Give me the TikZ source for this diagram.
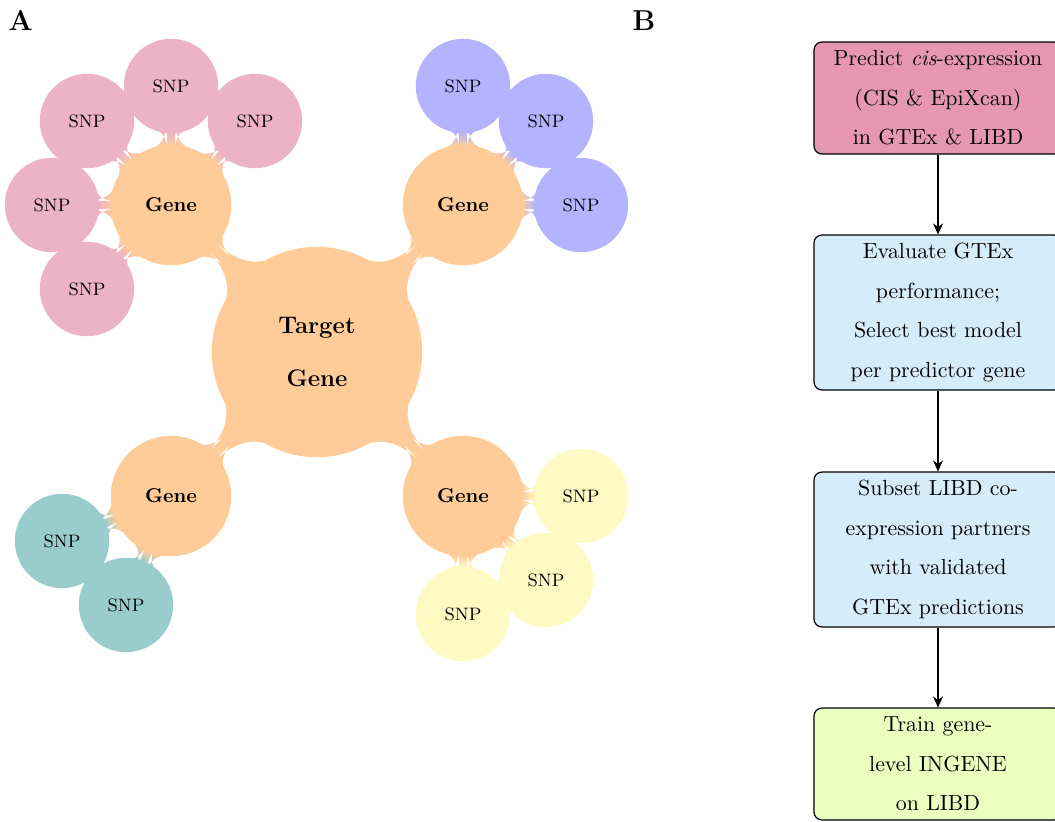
\documentclass[tikz,border=0pt]{standalone}
\usetikzlibrary{mindmap,arrows.meta,backgrounds}

\definecolor{geneor}{RGB}{255,204,153}
\definecolor{snppink}{RGB}{236,179,198}
\definecolor{snpblue}{RGB}{179,179,255}
\definecolor{snpteal}{RGB}{153,204,204}
\definecolor{snpyellow}{RGB}{255,250,195}
\definecolor{boxpink}{RGB}{229,151,177}
\definecolor{boxblue}{RGB}{213,236,250}
\definecolor{boxgreen}{RGB}{236,253,192}

\begin{document}
\begin{tikzpicture}[x=0.5pt,y=-0.5pt,
  panel/.style={font=\Large\bfseries, anchor=base west, inner sep=0pt},
  stepbox/.style={draw=black, semithick, rounded corners=4pt, text width=117pt,
    align=center, minimum width=124pt, inner sep=3.5pt,
    font={\fontsize{10.95}{19.75}\selectfont}},
  flowarrow/.style={-{Stealth[length=5.5pt,width=5pt]}, semithick},
  rootc/.style={concept, concept color=geneor, fill=geneor, text=black,
    minimum size=104pt, text width=80pt, align=center,
    font={\fontsize{12}{26.5}\selectfont\bfseries}},
  genec/.style={concept, concept color=geneor, fill=geneor, text=black,
    minimum size=59pt, text width=40pt, align=center, font=\normalsize\bfseries},
  snpc/.style={concept, concept color=#1, fill=#1, text=black,
    minimum size=46pt, text width=30pt, align=center, font=\small},
  bar/.style args={#1/#2}{circle connection bar switch color=from (#1) to (#2)},
]
\useasboundingbox (0,0) rectangle (1055,821);

% panel letters
\node[panel] (labA) at (8,30) {A};
\node[panel] (labB) at (632,30) {B};

% ---- mind map of the target gene and its predictors ----
\begin{scope}[mindmap]
  \node[rootc] (root) at (317,352) {Target\\Gene};

  \node[genec] (g1) at (171,205) {Gene};
  \node[genec] (g2) at (463,205) {Gene};
  \node[genec] (g3) at (171,496) {Gene};
  \node[genec] (g4) at (463,496) {Gene};

  \node[snpc=snppink] (s11) at (171,86)  {SNP};
  \node[snpc=snppink] (s12) at (255,121) {SNP};
  \node[snpc=snppink] (s13) at (87,121)  {SNP};
  \node[snpc=snppink] (s14) at (52,205)  {SNP};
  \node[snpc=snppink] (s15) at (87,289)  {SNP};

  \node[snpc=snpblue] (s21) at (463,86)  {SNP};
  \node[snpc=snpblue] (s22) at (546,121) {SNP};
  \node[snpc=snpblue] (s23) at (581,205) {SNP};

  \node[snpc=snpteal] (s31) at (62,541)  {SNP};
  \node[snpc=snpteal] (s32) at (126,605) {SNP};

  \node[snpc=snpyellow] (s41) at (581,496) {SNP};
  \node[snpc=snpyellow] (s42) at (546,580) {SNP};
  \node[snpc=snpyellow] (s43) at (463,614) {SNP};

  \begin{pgfonlayer}{background}
    \path (root) to[bar=geneor/geneor] (g1);
    \path (root) to[bar=geneor/geneor] (g2);
    \path (root) to[bar=geneor/geneor] (g3);
    \path (root) to[bar=geneor/geneor] (g4);

    \path (g1) to[bar=geneor/snppink] (s11);
    \path (g1) to[bar=geneor/snppink] (s12);
    \path (g1) to[bar=geneor/snppink] (s13);
    \path (g1) to[bar=geneor/snppink] (s14);
    \path (g1) to[bar=geneor/snppink] (s15);

    \path (g2) to[bar=geneor/snpblue] (s21);
    \path (g2) to[bar=geneor/snpblue] (s22);
    \path (g2) to[bar=geneor/snpblue] (s23);

    \path (g3) to[bar=geneor/snpteal] (s31);
    \path (g3) to[bar=geneor/snpteal] (s32);

    \path (g4) to[bar=geneor/snpyellow] (s41);
    \path (g4) to[bar=geneor/snpyellow] (s42);
    \path (g4) to[bar=geneor/snpyellow] (s43);
  \end{pgfonlayer}
\end{scope}

% ---- workflow ----
\node[stepbox, fill=boxpink, minimum height=56pt] (b1) at (938,98)
  {Predict \emph{cis}-expression\\(CIS \& EpiXcan)\\in GTEx \& LIBD};
\node[stepbox, fill=boxblue, minimum height=77.5pt] (b2) at (938,312.5)
  {Evaluate GTEx\\performance;\\Select best model\\per predictor gene};
\node[stepbox, fill=boxblue, minimum height=77.5pt] (b3) at (938,549.5)
  {Subset LIBD co-\\expression partners\\with validated\\GTEx predictions};
\node[stepbox, fill=boxgreen, minimum height=56pt] (b4) at (938,764)
  {Train gene-\\level INGENE\\on LIBD};

\draw[flowarrow] (b1) -- (b2);
\draw[flowarrow] (b2) -- (b3);
\draw[flowarrow] (b3) -- (b4);
\end{tikzpicture}
\end{document}
